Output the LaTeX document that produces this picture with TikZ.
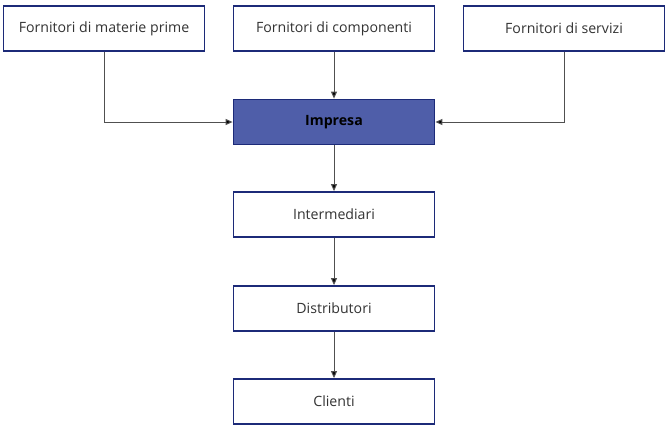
\documentclass[tikz,border=0pt]{standalone}
\usepackage{fontspec}
\setmainfont{Open Sans}
\usetikzlibrary{arrows.meta}
\definecolor{boxborder}{HTML}{1C2A78}
\definecolor{boxfill}{HTML}{4F5EA9}
\definecolor{linegray}{HTML}{505050}
\begin{document}
\begin{tikzpicture}[x=1bp,y=-1bp,
  box/.style={draw=boxborder,line width=1.8bp,fill=white,minimum width=201bp,minimum height=45bp,inner sep=0pt,font=\fontsize{14.2}{16}\selectfont,text=black!80},
  mainbox/.style={box,fill=boxfill,font=\fontsize{14.2}{16}\selectfont\bfseries,text=black},
  conn/.style={draw=linegray,line width=1bp,-{Triangle[length=7bp,width=6bp,fill=black]}}]
\useasboundingbox (0,0) rectangle (672,427);
\node[box] (raw) at (104,28.5) {\raisebox{-2bp}{Fornitori di materie prime}};
\node[box] (comp) at (334,28.5) {\raisebox{-2bp}{Fornitori di componenti}};
\node[box] (serv) at (564,28.5) {\raisebox{-2bp}{Fornitori di servizi}};
\node[mainbox] (imp) at (334,122) {\raisebox{-2bp}{Impresa}};
\node[box] (inter) at (334,214.5) {\raisebox{-2bp}{Intermediari}};
\node[box] (dist) at (334,308.5) {\raisebox{-2bp}{Distributori}};
\node[box] (cli) at (334,401.5) {\raisebox{-2bp}{Clienti}};
\draw[conn] (raw.south) |- (imp.west);
\draw[conn] (serv.south) |- (imp.east);
\draw[conn] (comp) -- (imp);
\draw[conn] (imp) -- (inter);
\draw[conn] (inter) -- (dist);
\draw[conn] (dist) -- (cli);
\end{tikzpicture}
\end{document}
